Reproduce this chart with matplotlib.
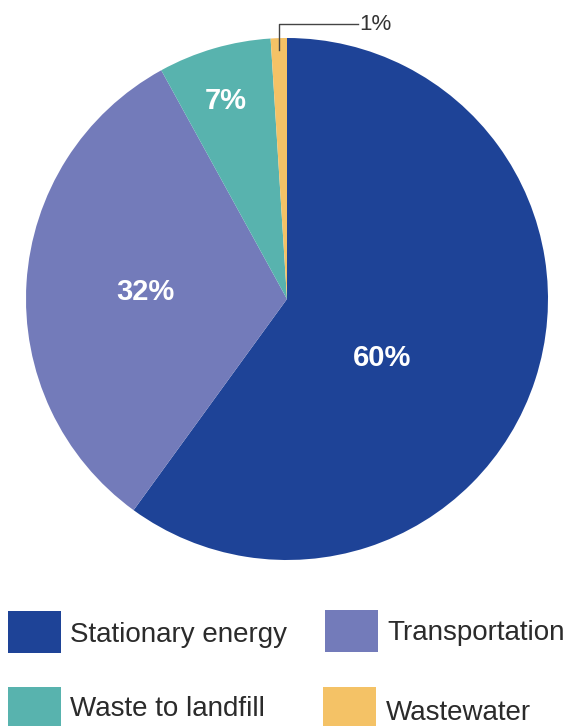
import matplotlib.pyplot as plt
from matplotlib.patches import Rectangle

# emissions by sector, percent
sectors = ["Stationary energy", "Transportation", "Waste to landfill", "Wastewater"]
shares = [60, 32, 7, 1]
colors = ["#1E4397", "#737BBA", "#58B3AE", "#F4C266"]

W, H = 568, 726
fig = plt.figure(figsize=(W / 100, H / 100), dpi=100)
ax = fig.add_axes([0, 0, 1, 1])

cx, cy, r = 287, H - 299, 261
wedges, _ = ax.pie(shares, colors=colors, startangle=90, counterclock=False,
                   center=(cx, cy), radius=r, frame=True)
ax.set_xlim(0, W)
ax.set_ylim(0, H)
ax.axis("off")

# percent labels inside the big slices (x centre, baseline y)
label_pos = {0: (382, 366), 1: (145.5, 300), 2: (225.5, 109)}
for i, (px, py) in label_pos.items():
    ax.text(px, H - py, f"{shares[i]}%", color="white", fontsize=21,
            fontweight="bold", family="Liberation Sans", ha="center", va="baseline")

# leader for the tiny wastewater slice
ax.plot([279, 279, 358], [H - 50, H - 24, H - 24], color="#444444", lw=1)
ax.text(359, H - 30, f"{shares[3]}%", color="#333333", fontsize=16,
        family="Liberation Sans", ha="left", va="baseline")

# legend, two columns: square (x, top y, w), label (x, baseline y)
legend_boxes = [(8, 611, 53, 70, 642), (325, 610, 53, 387, 640),
                (8, 687, 53, 70, 716), (323, 687, 53, 386, 720)]
for (bx, by, bw, tx, ty), name, c in zip(legend_boxes, sectors, colors):
    ax.add_patch(Rectangle((bx, H - by - 42), bw, 42, color=c, lw=0))
    ax.text(tx, H - ty, name, color="#2b2b2b", fontsize=20,
            family="Liberation Sans", ha="left", va="baseline")

fig.savefig("out.png", dpi=100)
